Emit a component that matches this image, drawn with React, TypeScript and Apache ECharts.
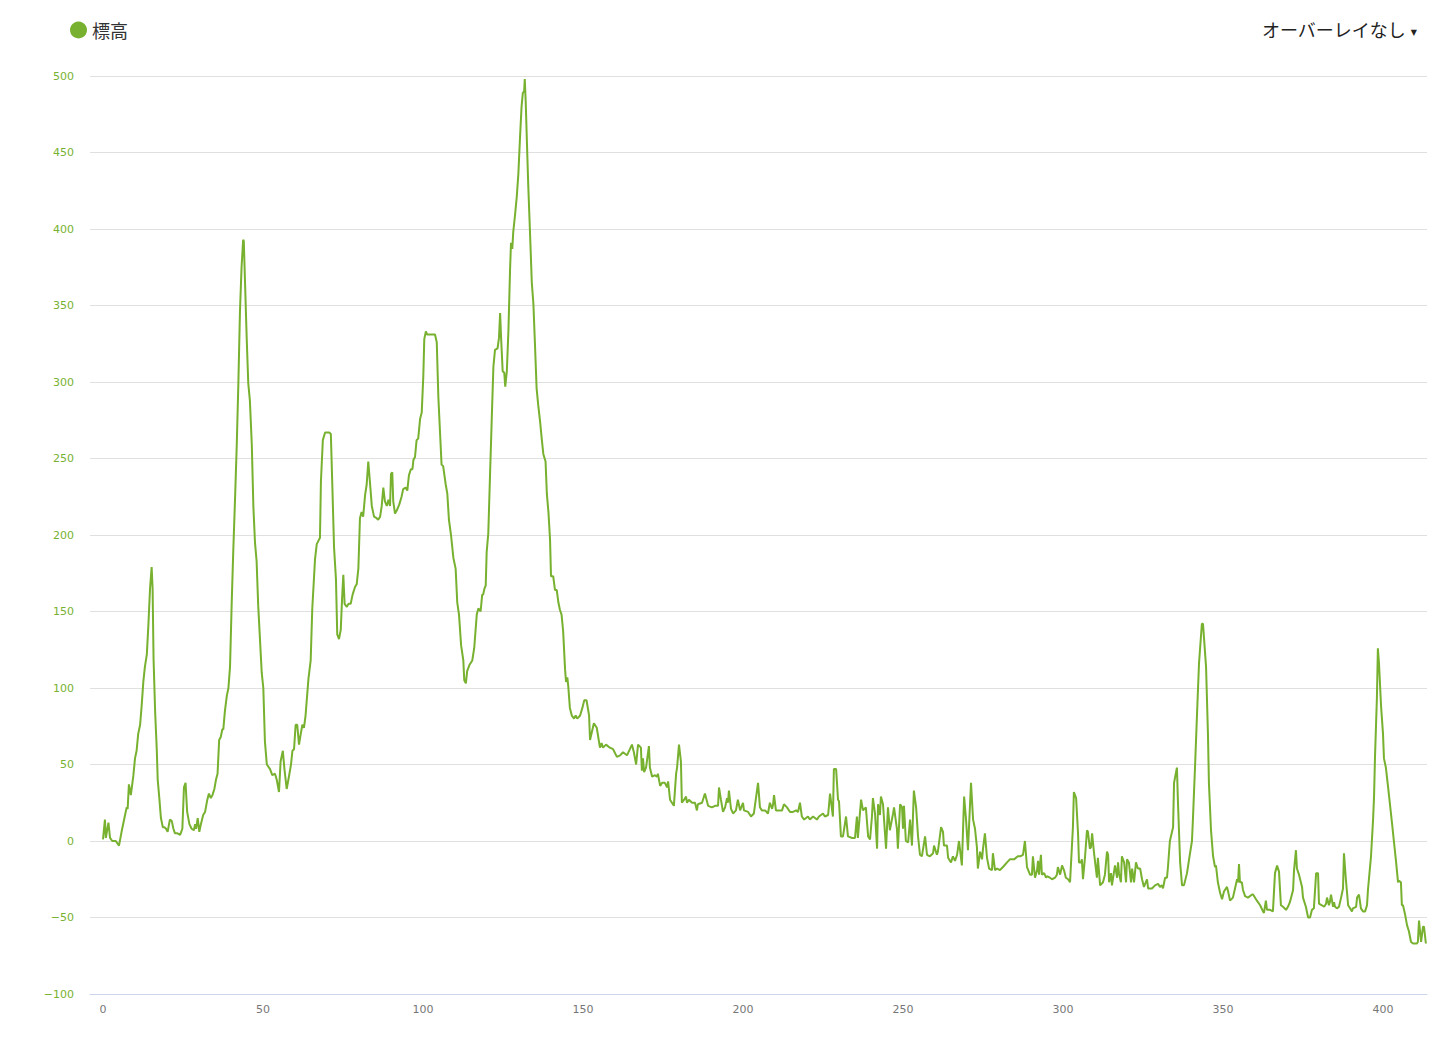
import React, { useEffect, useRef } from "react";
import * as echarts from "echarts";

const seriesName = "標高";
const overlayLabel = "オーバーレイなし";

const kms: number[] = [
  0, 0.6, 0.9, 1.7, 2.2, 2.9, 4.0, 5.0, 5.8, 6.7, 7.4, 7.7, 8.1, 8.7, 9.5, 10.0, 10.5, 11.0, 11.6, 12.1,
  12.6, 13.1, 13.7, 14.2, 14.7, 15.2, 15.5, 15.8, 16.3, 16.8, 17.1, 17.6, 18.1, 18.7, 19.2, 19.7, 20.2, 20.9, 21.5, 22.0,
  22.5, 23.3, 24.1, 24.8, 25.3, 25.8, 26.3, 27.0, 27.7, 28.4, 28.8, 29.1, 29.6, 30.1, 30.6, 31.3, 31.9, 32.6, 33.1, 33.7,
  34.2, 34.8, 35.3, 35.8, 36.3, 36.8, 37.3, 37.6, 38.1, 38.7, 39.2, 39.7, 40.2, 40.7, 41.3, 41.8, 42.3, 42.8, 43.3, 43.8,
  44.0, 44.4, 44.9, 45.4, 45.9, 46.5, 47.0, 47.5, 48.0, 48.5, 49.1, 49.6, 50.1, 50.6, 51.2,
  52.2, 52.9, 53.75, 54.3, 55.0, 55.5, 56.2, 56.7, 57.4, 58.1, 58.75, 59.2, 59.7, 60.2, 60.7, 61.25, 61.8, 62.3, 62.8, 63.3,
  64.2, 64.9, 65.4, 66.25, 66.8, 67.5, 67.8, 68.1, 68.7, 69.4, 70.7, 71.2, 71.7, 72.2, 72.8, 73.2, 73.75, 74.3, 74.7, 75.1,
  75.5, 76.2, 76.7, 77.4, 78.0, 78.75, 79.3, 79.8, 80.3, 80.8, 81.3, 81.9, 82.4, 82.9, 83.4, 84.0, 84.7, 85.5, 86.0, 86.6,
  87.1, 87.6, 88.1, 88.7, 89.2, 89.7, 90.0, 90.4, 90.7, 91.25, 91.8, 92.6, 93.3, 93.8, 94.6, 95.1, 95.6, 96.2, 96.7, 97.0,
  97.5, 98.0, 98.5, 99.1, 99.6, 100.1, 100.4, 100.9, 101.3,
  101.7, 103.75, 104.3, 104.8, 105.3, 105.8, 106.3, 107.1, 107.6, 108.1, 108.75, 109.5, 110.2, 110.7, 111.25, 111.9, 112.6, 112.9, 113.4, 113.8,
  114.5, 115.4, 116.0, 116.8, 117.3, 118.0, 118.5, 118.8, 119.2, 119.6, 119.9, 120.4, 120.9, 121.5, 122.0, 122.5, 123.3, 123.75, 124.1, 124.4,
  124.9, 125.4, 125.7, 126.2, 126.7, 127.2, 127.5, 127.9, 128.2, 128.75, 129.3, 129.8, 130.3, 130.8, 131.2, 131.6, 131.8, 132.1, 132.5, 132.9,
  133.4, 134.0, 134.5, 135.0, 135.5, 136.0, 136.6, 137.1, 137.6, 138.3, 138.7, 139.2, 139.7, 140.0, 140.7, 141.25, 141.8, 142.3, 142.8, 143.3,
  143.8, 144.4, 144.7, 145.1, 145.4, 145.9, 146.5, 147.2, 147.7, 148.2, 149.1, 149.8, 150.4, 151.1, 151.9,
  152.2, 153.4, 154.3, 155.3, 155.8, 156.25, 157.2, 158.4, 159.4, 160.6, 161.6, 162.5, 163.75, 165.3, 165.9, 166.6, 167.2, 168.1, 168.4, 168.75,
  169.1, 169.7, 170.6, 170.9, 171.6, 172.5, 173.1, 173.4, 174.1, 174.7, 175.6, 176.25, 176.6, 177.2, 177.8, 178.4, 179.1, 179.4, 180.0, 180.6,
  180.9, 181.6, 182.2, 182.5, 183.1, 184.1, 185.0, 185.6, 185.9, 187.2, 188.1, 189.1, 190.3, 191.25, 192.2, 192.5, 193.1, 193.75, 194.4, 195.0,
  195.3, 195.6, 196.25, 196.9, 197.8, 198.4, 199.1, 200.0, 200.3, 201.6, 202.5, 203.4, 204.7,
  205.3, 205.9, 206.9, 207.8, 208.4, 209.1, 209.4, 209.7, 210.3, 211.25, 212.2, 212.8, 213.75, 214.7, 215.6, 216.6, 217.2, 217.8, 218.4, 219.1,
  220.3, 220.9, 221.9, 223.1, 223.75, 225.0, 225.6, 226.6, 227.2, 228.1, 228.4, 229.1, 229.7, 230.0, 230.6, 231.25, 232.2, 232.8, 234.1, 235.0,
  235.6, 235.9, 236.9, 237.5, 238.4, 239.1, 239.7, 240.3, 240.6, 241.25, 241.9, 242.2, 242.8, 243.1, 243.75, 244.7, 245.3, 245.9, 246.9, 247.2,
  248.1, 248.4, 249.1, 249.7, 250.0, 250.3, 250.9, 251.6, 252.2, 252.8, 253.4, 254.1, 254.7, 255.3, 255.9, 256.9,
  257.5, 258.4, 259.4, 259.7, 260.6, 260.9, 261.9, 262.5, 262.8, 263.75, 264.1, 265.0, 265.6, 266.25, 266.9, 267.5, 268.4, 269.1, 269.7, 270.3,
  271.25, 271.9, 272.5, 273.1, 273.4, 274.1, 274.7, 275.0, 275.6, 276.25, 276.9, 277.8, 278.1, 278.75, 279.4, 280.3, 281.25, 282.5, 283.4, 284.7,
  285.9, 286.6, 287.5, 288.1, 288.75, 289.7, 290.3, 290.6, 291.25, 291.9, 292.2, 292.5, 293.1, 293.4, 294.1, 294.7, 295.0, 295.9, 296.6, 297.5,
  298.1, 298.4, 299.1, 299.7, 300.3, 300.9, 301.6, 302.2, 303.1, 303.4, 304.1, 304.7, 305.0, 305.6, 305.9, 306.25, 306.9, 307.5, 307.8, 308.4,
  308.75, 309.1, 309.7, 310.6, 310.9, 311.6, 312.5, 313.1, 313.75, 314.1, 314.4, 315.0, 315.3, 316.25, 316.9, 317.2, 317.5, 318.1, 318.4, 319.1,
  319.7, 320.0, 320.6, 321.25, 321.6, 322.2, 322.8, 323.4, 324.1, 324.7, 325.3, 326.25, 326.6, 327.8, 328.75, 329.7, 330.3, 330.9, 331.25, 331.9,
  332.5, 332.8, 333.4, 334.4, 334.7, 335.6, 335.9, 336.6, 337.2, 337.8, 338.75, 339.4, 340.3, 340.6, 341.25, 341.9, 342.5, 343.4, 343.75, 344.7,
  345.3, 345.6, 346.25, 346.9, 347.5, 347.8, 348.4, 349.1, 349.7, 350.3, 351.25, 351.6, 352.2, 353.1, 353.75, 354.4, 354.7, 355.0, 355.3, 355.9,
  356.25, 356.9, 357.8, 359.1,
  359.4, 360.6, 361.6, 362.5, 362.8, 363.4, 363.75, 364.7, 365.6, 366.25, 366.9, 367.5, 368.1, 368.75, 369.7, 370.3, 370.9, 371.9, 372.2, 372.8,
  373.1, 373.75, 374.7, 375.0, 375.9, 376.6, 377.2, 377.8, 378.4, 379.1, 379.7, 380.0, 380.9, 381.6, 382.2, 382.5, 383.1, 383.4, 383.75, 384.4,
  384.7, 385.0, 385.6, 386.25, 386.9, 387.5, 387.8, 388.4, 389.1, 389.7, 390.3, 390.6, 391.6, 391.9, 392.5, 393.1, 393.75, 394.4, 395.0, 395.3,
  396.25, 396.9, 397.2, 397.5, 398.1, 398.4, 398.75, 399.4, 400.0, 400.3, 400.9, 401.6, 402.8, 403.4, 404.1, 404.7, 405.0, 405.6, 405.9, 406.25,
  406.9, 407.5, 408.1, 408.75, 409.4, 410.6, 410.9, 411.25, 411.9, 412.5, 412.8, 413.4,
];

const elevs: number[] = [
  1, 14, 2, 12, 2, 0, 0, -3, 6, 15, 22, 21, 37, 30, 43, 54, 59, 70, 76, 89,
  104, 114, 122, 142, 165, 179, 165, 119, 84, 60, 40, 28, 15, 9, 9, 8, 6, 14, 13, 8,
  5, 5, 4, 8, 35, 38, 19, 11, 8, 7, 11, 8, 15, 6, 11, 17, 19, 27, 31, 28,
  30, 34, 40, 44, 66, 68, 73, 73, 85, 95, 100, 114, 154, 189, 226, 259, 299, 346, 375, 393,
  392, 364, 329, 299, 288, 259, 218, 195, 183, 154, 130, 110, 100, 65, 50,
  47, 43, 44, 40, 32, 52, 59, 47, 34, 42, 50, 59, 60, 76, 76, 63, 70, 76, 74, 82,
  106, 118, 152, 184, 194, 197, 198, 235, 262, 267, 267, 266, 230, 192, 171, 135, 132, 138, 158, 174,
  155, 153, 155, 155, 161, 166, 168, 178, 211, 215, 212, 226, 233, 248, 235, 219, 212, 211, 210, 212,
  219, 231, 222, 219, 223, 219, 240, 241, 222, 214, 216, 220, 225, 230, 231, 229, 239, 243, 243, 249,
  251, 262, 263, 276, 280, 304, 328, 333, 331,
  331, 331, 326, 290, 268, 246, 245, 233, 227, 210, 200, 185, 178, 156, 148, 128, 118, 105, 103, 111,
  115, 118, 126, 148, 152, 150, 161, 161, 165, 167, 189, 201, 236, 277, 310, 321, 322, 329, 345, 329,
  307, 306, 297, 307, 334, 373, 391, 387, 398, 409, 421, 436, 459, 480, 489, 490, 498, 483, 455, 428,
  400, 365, 351, 324, 296, 285, 274, 263, 253, 248, 227, 215, 197, 173, 173, 164, 164, 156, 151, 148,
  137, 112, 104, 107, 101, 87, 82, 80, 82, 80, 82, 87, 92, 92, 82,
  66, 77, 74, 61, 64, 61, 63, 61, 60, 55, 56, 58, 56, 63, 58, 50, 63, 61, 46, 54,
  45, 48, 62, 48, 42, 43, 42, 44, 36, 38, 38, 35, 39, 27, 25, 23, 44, 48, 63, 52,
  25, 27, 29, 25, 27, 25, 25, 20, 24, 25, 31, 23, 22, 23, 23, 35, 27, 19, 22, 28,
  25, 33, 21, 18, 20, 27, 20, 25, 20, 19, 16, 18, 38,
  22, 20, 20, 18, 25, 21, 24, 30, 20, 20, 20, 24, 22, 19, 19, 20, 19, 25, 16, 14,
  16, 14, 16, 14, 16, 18, 16, 17, 31, 16, 47, 47, 27, 26, 3, 3, 16, 3, 2, 2,
  16, 2, 27, 20, 22, 3, 1, 16, 28, 18, -5, 24, 17, 29, 24, -5, 22, 7, 18, 22,
  8, -5, 24, 22, 8, 23, 0, -1, 14, -3, 33, 22, 3, -9, -10, 3,
  -9, -10, -8, -3, -9, -7, 9, 6, -3, -3, -11, -14, -10, -13, -9, 0, -16, 29, 14, -6,
  38, 14, 8, -4, -18, -7, -12, -5, 5, -11, -18, -19, -8, -19, -18, -19, -17, -14, -12, -12,
  -10, -10, -9, 0, -17, -22, -22, -10, -24, -19, -13, -22, -9, -22, -21, -24, -23, -24, -25, -24,
  -22, -17, -22, -16, -19, -24, -25, -27, 9, 32, 28, 5, -14, -14, -12, -25, -10, 7, 6, -5,
  -4, 5, -8, -24, -11, -29, -27, -22, -7, -9, -27, -21, -29, -16, -24, -14, -21, -27, -10, -14,
  -27, -12, -14, -27, -18, -27, -14, -18, -18, -25, -30, -25, -31, -31, -29, -28, -30, -29, -31, -24,
  -24, -17, 0, 9, 38, 48, 27, -14, -29, -29, -21, -12, 0, 14, 48, 84, 116, 142, 142, 114,
  70, 38, 7, -10, -17, -16, -27, -34, -38, -33, -30, -33, -39, -37, -31, -25, -27, -15, -27, -27,
  -32, -36, -37, -35,
  -35, -39, -42, -46, -47, -39, -45, -45, -46, -21, -16, -20, -42, -43, -45, -43, -40, -32, -19, -6,
  -18, -22, -30, -37, -43, -50, -50, -45, -44, -21, -21, -41, -42, -43, -41, -37, -42, -40, -35, -43,
  -40, -43, -44, -43, -37, -31, -8, -25, -42, -44, -46, -44, -43, -37, -35, -44, -46, -46, -42, -32,
  -10, 14, 29, 55, 94, 126, 116, 88, 70, 54, 48, 35, 12, 0, -14, -27, -26, -27, -42, -42,
  -48, -55, -59, -66, -67, -67, -66, -52, -66, -56, -56, -67,
];

const yMin = -100;
const yMax = 500;
const yStep = 50;
const xMin = -4.0625;
const xMax = 413.75;

const GREEN = "#77b12f";

export default function App() {
  const ref = useRef<HTMLDivElement>(null);

  useEffect(() => {
    if (!ref.current) return;
    const chart = echarts.init(ref.current, undefined, { renderer: "svg" });
    const n = Math.min(kms.length, elevs.length);
    const data: [number, number][] = [];
    for (let i = 0; i < n; i++) data.push([kms[i], elevs[i]]);

    chart.setOption({
      animation: false,
      backgroundColor: "#ffffff",
      grid: { left: 90, right: 24, top: 76, bottom: 46, containLabel: false },
      legend: {
        left: 65,
        top: 16,
        icon: "circle",
        itemWidth: 17,
        itemHeight: 17,
        itemGap: 10,
        textStyle: { fontSize: 18, color: "#333333", fontFamily: "Noto Sans CJK JP" },
        data: [seriesName],
      },
      xAxis: {
        type: "value",
        min: xMin,
        max: xMax,
        splitNumber: 8,
        axisLine: { show: true, onZero: false, lineStyle: { color: "#ccd6eb", width: 1 } },
        axisTick: { show: false },
        splitLine: { show: false },
        axisLabel: {
          color: "#777777",
          fontSize: 11,
          fontFamily: "DejaVu Sans",
          margin: 10,
          showMinLabel: false,
          showMaxLabel: false,
          formatter: (v: number) => (Math.abs(v % 50) < 1e-6 ? String(v) : ""),
        },
      },
      yAxis: {
        type: "value",
        min: yMin,
        max: yMax,
        interval: yStep,
        axisLine: { show: false },
        axisTick: { show: false },
        splitLine: { show: true, lineStyle: { color: "#e0e0e0", width: 1 } },
        axisLabel: {
          color: GREEN,
          fontSize: 11,
          fontFamily: "DejaVu Sans",
          margin: 16,
          formatter: (v: number) => (v < 0 ? "\u2212" + Math.abs(v) : String(v)),
        },
      },
      graphic: [
        {
          type: "text",
          right: 45,
          top: 20,
          style: {
            text: overlayLabel,
            fontSize: 18,
            fill: "#222222",
            fontFamily: "Noto Sans CJK JP",
          },
        },
        {
          type: "text",
          right: 34,
          top: 28,
          style: { text: "▼", fontSize: 8, fill: "#222222", fontFamily: "DejaVu Sans" },
        },
      ],
      series: [
        {
          name: seriesName,
          type: "line",
          data,
          showSymbol: false,
          symbol: "circle",
          color: GREEN,
          lineStyle: { color: GREEN, width: 2 },
        },
      ],
    });
    return () => chart.dispose();
  }, []);

  return (
    <div
      ref={ref}
      style={{ position: "fixed", left: 0, top: 0, width: 1451, height: 1040, background: "#fff" }}
    />
  );
}
